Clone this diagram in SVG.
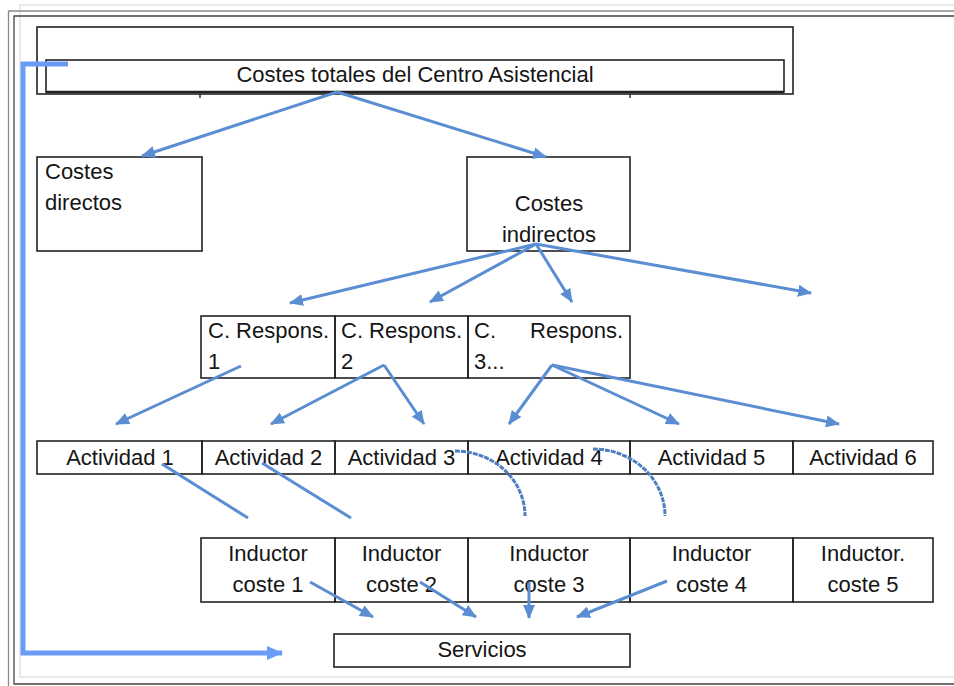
<svg xmlns="http://www.w3.org/2000/svg" width="954" height="686" viewBox="0 0 954 686">
  <style>
    .box { fill: #fff; stroke: #222; stroke-width: 1.6; }
    .cell { fill: none; stroke: #222; stroke-width: 1.6; }
    .t { font-family: "Liberation Sans", Arial, sans-serif; font-size: 22px; fill: #151515; }
    .c { text-anchor: middle; }
    .e { text-anchor: end; }
    .arr { fill: none; stroke: #5b8dd3; stroke-width: 3; marker-end: url(#head); }
    .ln { fill: none; stroke: #5b8dd3; stroke-width: 3; }
    .arc { fill: none; stroke: #4d7fc0; stroke-width: 3; stroke-dasharray: 5 1; }
    .flow { fill: none; stroke: #6a9cf5; stroke-width: 5; marker-end: url(#bighead); }
  </style>
  <defs>
    <marker id="head" markerUnits="userSpaceOnUse" markerWidth="14" markerHeight="12" refX="13" refY="6" orient="auto">
      <path d="M0,0 L14,6 L0,12 z" fill="#5b8dd3"/>
    </marker>
    <marker id="bighead" markerUnits="userSpaceOnUse" markerWidth="16" markerHeight="14" refX="15" refY="7" orient="auto">
      <path d="M0,0 L16,7 L0,14 z" fill="#6a9cf5"/>
    </marker>
  </defs>

  <rect width="954" height="686" fill="#fff"/>

  <!-- page frame -->
  <g id="frame" fill="none">
    <path d="M954,5 H20 V677 H954" stroke="#e2e2e2" stroke-width="1.5"/>
    <path d="M954,11 H8.5 V686" stroke="#8a8a8a" stroke-width="1.3"/>
    <path d="M954,16 H14 V684 H954" stroke="#444" stroke-width="1.3"/>
  </g>

  <!-- total costs header -->
  <g id="costes-totales">
    <rect class="box" x="37" y="27" width="756" height="67"/>
    <rect class="box" x="46" y="60" width="738" height="32"/>
    <line x1="46" y1="92" x2="784" y2="92" stroke="#222" stroke-width="2.4"/>
    <path d="M200,94 v4 M630,94 v4" stroke="#222" stroke-width="1.4"/>
    <text class="t c" x="415" y="82">Costes totales del Centro Asistencial</text>
  </g>

  <g id="costes-directos">
    <rect class="box" x="37" y="157" width="165" height="94"/>
    <text class="t" x="45" y="179">Costes</text>
    <text class="t" x="45" y="210">directos</text>
  </g>

  <g id="costes-indirectos">
    <rect class="box" x="467" y="157" width="163" height="94"/>
    <text class="t c" x="549" y="211">Costes</text>
    <text class="t c" x="549" y="242">indirectos</text>
  </g>

  <!-- responsibility centres -->
  <g id="c-respons-1">
    <rect class="cell" x="201" y="316" width="134" height="62"/>
    <text class="t" x="208" y="338">C. Respons.</text>
    <text class="t" x="208" y="369">1</text>
  </g>
  <g id="c-respons-2">
    <rect class="cell" x="335" y="316" width="133" height="62"/>
    <text class="t" x="341" y="338">C. Respons.</text>
    <text class="t" x="341" y="369">2</text>
  </g>
  <g id="c-respons-3">
    <rect class="cell" x="468" y="316" width="162" height="62"/>
    <text class="t" x="474" y="338">C.</text>
    <text class="t e" x="623" y="338">Respons.</text>
    <text class="t" x="474" y="369">3...</text>
  </g>

  <!-- activities -->
  <g id="actividad-1">
    <rect class="cell" x="37" y="441" width="165" height="33"/>
    <text class="t c" x="120" y="465">Actividad 1</text>
  </g>
  <g id="actividad-2">
    <rect class="cell" x="202" y="441" width="133" height="33"/>
    <text class="t c" x="268.5" y="465">Actividad 2</text>
  </g>
  <g id="actividad-3">
    <rect class="cell" x="335" y="441" width="133" height="33"/>
    <text class="t c" x="401.5" y="465">Actividad 3</text>
  </g>
  <g id="actividad-4">
    <rect class="cell" x="468" y="441" width="162" height="33"/>
    <text class="t c" x="549" y="465">Actividad 4</text>
  </g>
  <g id="actividad-5">
    <rect class="cell" x="630" y="441" width="163" height="33"/>
    <text class="t c" x="711.5" y="465">Actividad 5</text>
  </g>
  <g id="actividad-6">
    <rect class="cell" x="793" y="441" width="140" height="33"/>
    <text class="t c" x="863" y="465">Actividad 6</text>
  </g>

  <!-- cost drivers -->
  <g id="inductor-1">
    <rect class="cell" x="201" y="538" width="134" height="64"/>
    <text class="t c" x="268" y="561">Inductor</text>
    <text class="t c" x="268" y="592">coste 1</text>
  </g>
  <g id="inductor-2">
    <rect class="cell" x="335" y="538" width="133" height="64"/>
    <text class="t c" x="401.5" y="561">Inductor</text>
    <text class="t c" x="401.5" y="592">coste 2</text>
  </g>
  <g id="inductor-3">
    <rect class="cell" x="468" y="538" width="162" height="64"/>
    <text class="t c" x="549" y="561">Inductor</text>
    <text class="t c" x="549" y="592">coste 3</text>
  </g>
  <g id="inductor-4">
    <rect class="cell" x="630" y="538" width="163" height="64"/>
    <text class="t c" x="711.5" y="561">Inductor</text>
    <text class="t c" x="711.5" y="592">coste 4</text>
  </g>
  <g id="inductor-5">
    <rect class="cell" x="793" y="538" width="140" height="64"/>
    <text class="t c" x="863" y="561">Inductor.</text>
    <text class="t c" x="863" y="592">coste 5</text>
  </g>

  <g id="servicios">
    <rect class="box" x="334" y="634" width="296" height="33"/>
    <text class="t c" x="482" y="657">Servicios</text>
  </g>

  <!-- connectors -->
  <g id="connectors">
    <path class="arr" d="M337,92 L142,156"/>
    <path class="arr" d="M337,92 L546,157"/>

    <path class="arr" d="M536,244 L290,303"/>
    <path class="arr" d="M536,244 L430,302"/>
    <path class="arr" d="M536,244 L572,302"/>
    <path class="arr" d="M536,244 L811,293"/>

    <path class="arr" d="M241,366 L116,424"/>
    <path class="arr" d="M384,365 L271,424"/>
    <path class="arr" d="M384,365 L424,424"/>
    <path class="arr" d="M552,365 L509,424"/>
    <path class="arr" d="M552,365 L679,424"/>
    <path class="arr" d="M552,365 L839,424"/>

    <path class="ln" d="M162,464 L248,518"/>
    <path class="ln" d="M262,463 L351,518"/>

    <path class="arc" d="M455,451 A70,65 0 0 1 525,516"/>
    <path class="arc" d="M593,449 A72,67 0 0 1 665,516"/>

    <path class="arr" d="M310,582 L373,617"/>
    <path class="arr" d="M420,582 L476,617"/>
    <path class="arr" d="M529,582 L529,618"/>
    <path class="arr" d="M667,581 L577,617"/>

    <path class="flow" d="M68,64 H23 V653 H282"/>
  </g>
</svg>
